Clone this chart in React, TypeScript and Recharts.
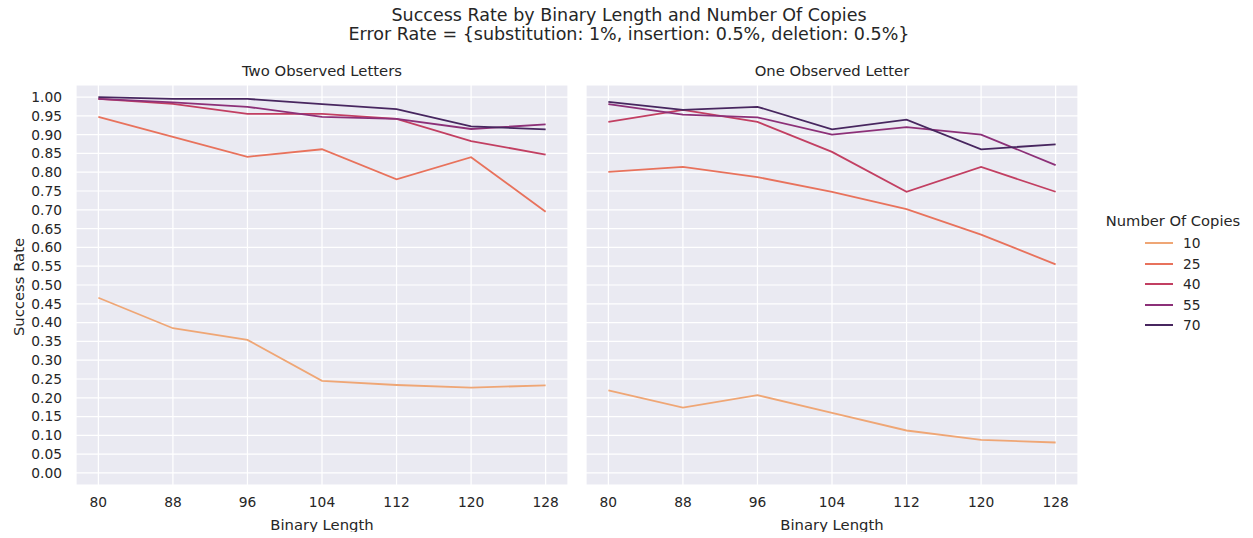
import React from 'react';
import { LineChart, Line, XAxis, YAxis, CartesianGrid } from 'recharts';

const binaryLengths = [80, 88, 96, 104, 112, 120, 128];
const copyCounts = [10, 25, 40, 55, 70];
const yTicks = [0, 0.05, 0.1, 0.15, 0.2, 0.25, 0.3, 0.35, 0.4, 0.45, 0.5, 0.55, 0.6, 0.65, 0.7, 0.75, 0.8, 0.85, 0.9, 0.95, 1.0];

// Two Observed Letters
const twoLetters10 = [0.466, 0.385, 0.354, 0.245, 0.234, 0.227, 0.233];
const twoLetters25 = [0.947, 0.894, 0.841, 0.861, 0.781, 0.84, 0.695];
const twoLetters40 = [0.995, 0.982, 0.955, 0.955, 0.942, 0.883, 0.847];
const twoLetters55 = [0.995, 0.986, 0.974, 0.947, 0.942, 0.915, 0.927];
const twoLetters70 = [1.0, 0.995, 0.995, 0.981, 0.968, 0.922, 0.914];

// One Observed Letter
const oneLetter10 = [0.22, 0.174, 0.207, 0.16, 0.113, 0.088, 0.081];
const oneLetter25 = [0.801, 0.814, 0.787, 0.748, 0.702, 0.634, 0.555];
const oneLetter40 = [0.934, 0.966, 0.934, 0.854, 0.748, 0.814, 0.748];
const oneLetter55 = [0.981, 0.953, 0.946, 0.9, 0.92, 0.9, 0.819];
const oneLetter70 = [0.987, 0.966, 0.974, 0.914, 0.94, 0.861, 0.874];

const colors = ['#efa675', '#e8725c', '#c23f62', '#8c3078', '#47265f'];

const font = '"DejaVu Sans", sans-serif';
const textColor = '#262626';

function buildRows(series: number[][]) {
  return binaryLengths.map((x, i) => {
    const row: Record<string, number> = { x };
    copyCounts.forEach((c, j) => {
      row['c' + c] = series[j][i];
    });
    return row;
  });
}

const twoLettersData = buildRows([twoLetters10, twoLetters25, twoLetters40, twoLetters55, twoLetters70]);
const oneLetterData = buildRows([oneLetter10, oneLetter25, oneLetter40, oneLetter55, oneLetter70]);

const tickStyle = { fontSize: 13.8, fontFamily: font, fill: textColor };

function Panel({ data, showY, left }: { data: Record<string, number>[]; showY: boolean; left: number }) {
  const width = showY ? 575 : 505;
  return (
    <div style={{ position: 'absolute', left, top: 60 }}>
      <LineChart
        width={width}
        height={472}
        data={data}
        margin={{ top: 25, right: 7, left: showY ? 0 : 6, bottom: 0 }}
      >
        <CartesianGrid stroke="#ffffff" strokeWidth={1.2} fill="#eaeaf2" fillOpacity={1} />
        <XAxis
          dataKey="x"
          type="number"
          domain={[77.6, 130.4]}
          ticks={binaryLengths}
          interval={0}
          allowDataOverflow
          axisLine={false}
          tickLine={false}
          tickSize={0}
          tickMargin={12}
          height={47}
          tick={tickStyle}
          label={{
            value: 'Binary Length',
            position: 'insideBottom',
            offset: 2,
            style: { fontSize: 14.8, fontFamily: font, fill: textColor },
          }}
        />
        <YAxis
          type="number"
          domain={[-0.032, 1.032]}
          ticks={yTicks}
          interval={0}
          allowDataOverflow
          hide={!showY}
          width={76}
          axisLine={false}
          tickLine={false}
          tickSize={0}
          tickMargin={14}
          tick={tickStyle}
          tickFormatter={(v: number) => v.toFixed(2)}
        />
        {copyCounts.map((c, j) => (
          <Line
            key={c}
            type="linear"
            dataKey={'c' + c}
            stroke={colors[j]}
            strokeWidth={1.8}
            dot={false}
            activeDot={false}
            isAnimationActive={false}
          />
        ))}
      </LineChart>
    </div>
  );
}

export default function App() {
  return (
    <div
      style={{
        position: 'absolute',
        left: 0,
        top: 0,
        width: 1253,
        height: 538,
        background: '#ffffff',
        fontFamily: font,
        color: textColor,
      }}
    >
      <div style={{ position: 'absolute', left: 0, width: 1258, top: 6, textAlign: 'center', fontSize: 17.5, lineHeight: '19px' }}>
        Success Rate by Binary Length and Number Of Copies
        <br />
        Error Rate = {'{'}substitution: 1%, insertion: 0.5%, deletion: 0.5%{'}'}
      </div>
      <div style={{ position: 'absolute', left: 76, width: 492, top: 62, textAlign: 'center', fontSize: 14.8 }}>
        Two Observed Letters
      </div>
      <div style={{ position: 'absolute', left: 586, width: 492, top: 62, textAlign: 'center', fontSize: 14.8 }}>
        One Observed Letter
      </div>
      <div
        style={{
          position: 'absolute',
          left: 18,
          top: 287,
          fontSize: 14.8,
          whiteSpace: 'nowrap',
          transform: 'translate(-50%, -50%) rotate(-90deg)',
        }}
      >
        Success Rate
      </div>

      <Panel data={twoLettersData} showY={true} left={0} />
      <Panel data={oneLetterData} showY={false} left={580} />

      <div style={{ position: 'absolute', left: 1097, top: 212, width: 150, fontSize: 14.7 }}>
        <div style={{ textAlign: 'center', lineHeight: '18px', marginLeft: 2 }}>Number Of Copies</div>
        {copyCounts.map((c, j) => (
          <div key={c} style={{ position: 'absolute', left: 48, top: 22 + j * 20.5, height: 18, display: 'flex', alignItems: 'center', fontSize: 13.8 }}>
            <svg width={30} height={18}>
              <line x1={0} x2={28} y1={9} y2={9} stroke={colors[j]} strokeWidth={2} />
            </svg>
            <span style={{ marginLeft: 8 }}>{c}</span>
          </div>
        ))}
      </div>
    </div>
  );
}
